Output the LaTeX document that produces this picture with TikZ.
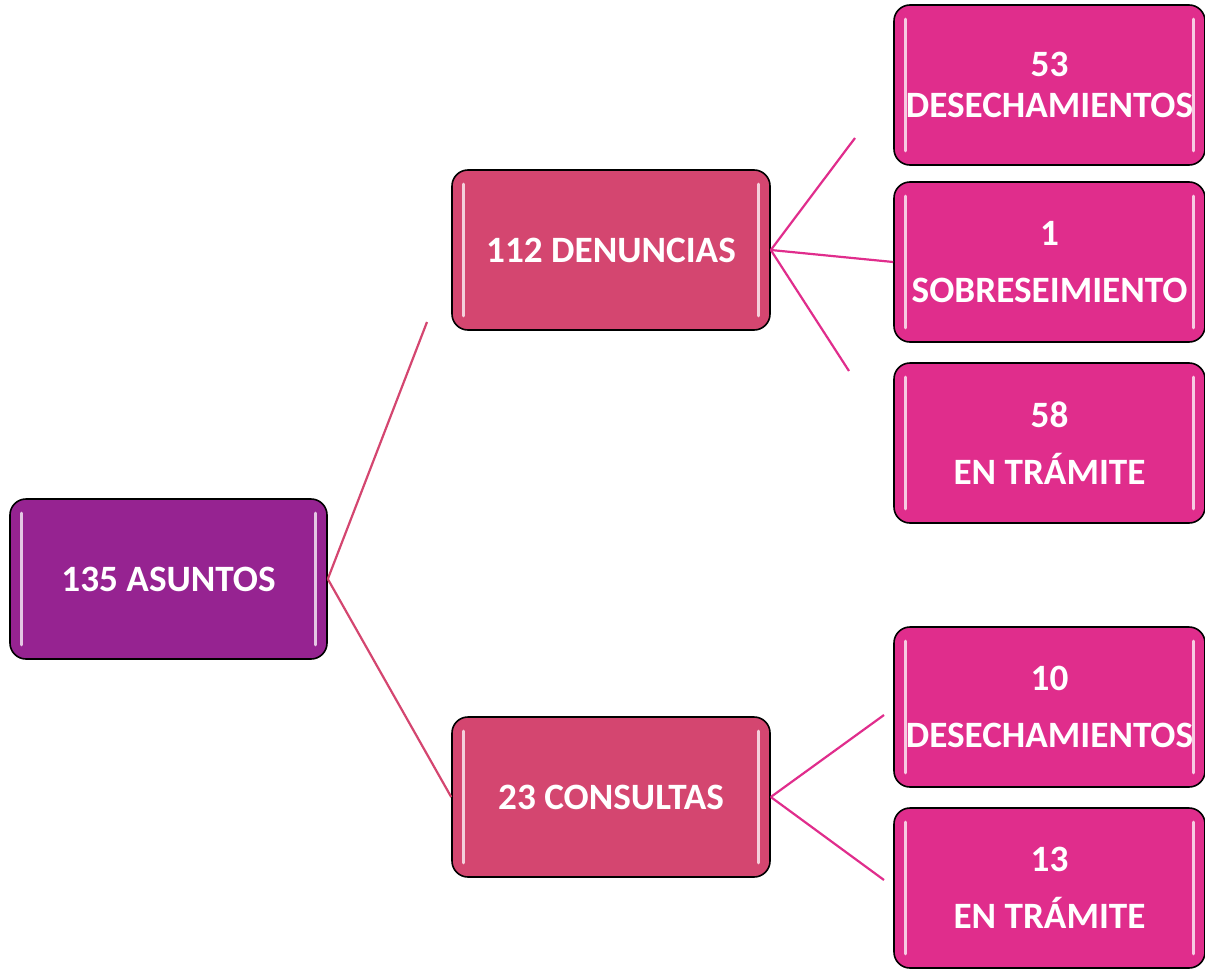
\documentclass[tikz,border=0pt]{standalone}
\usepackage{fontspec}
\setmainfont{Carlito}
\definecolor{morado}{RGB}{150,35,145}
\definecolor{rosa}{RGB}{212,70,112}
\definecolor{fucsia}{RGB}{224,45,140}
\tikzset{
	caja/.style={draw=black,line width=1.6pt,rounded corners=16pt,text=white,
		minimum height=160pt,inner sep=2pt,align=center,
		font=\fontsize{37.2}{41}\selectfont\bfseries},
	brillo/.style={white,opacity=0.75,line width=3pt,line cap=round},
	rama/.style={rosa,line width=2.2pt},
	hoja/.style={fucsia,line width=2.2pt}
}

\begin{document}
\begin{tikzpicture}[x=1pt,y=-1pt]
	\useasboundingbox (0,0) rectangle (1205,969);

	%BOXES
	\node[caja,fill=morado,minimum width=317pt] (raiz) at (168.5,579) {135 ASUNTOS};
	\node[caja,fill=rosa,minimum width=318pt] (den) at (611,250) {112 DENUNCIAS};
	\node[caja,fill=rosa,minimum width=318pt] (con) at (611,797) {23 CONSULTAS};
	\node[caja,fill=fucsia,minimum width=311pt] (des1) at (1049.5,85) {53\\DESECHAMIENTOS};
	\node[caja,fill=fucsia,minimum width=311pt] (sob) at (1049.5,262) {1\\[16pt]SOBRESEIMIENTO};
	\node[caja,fill=fucsia,minimum width=311pt] (tra1) at (1049.5,443) {58\\[16pt]EN TR\'AMITE};
	\node[caja,fill=fucsia,minimum width=311pt] (des2) at (1049.5,707) {10\\[16pt]DESECHAMIENTOS};
	\node[caja,fill=fucsia,minimum width=311pt] (tra2) at (1049.5,888) {13\\[16pt]EN TR\'AMITE};

	\foreach \n in {raiz,den,con,des1,sob,tra1,des2,tra2}{	%glossy edges
		\draw[brillo] ([xshift=12pt,yshift=-15pt]\n.north west)--([xshift=12pt,yshift=15pt]\n.south west);
		\draw[brillo] ([xshift=-12pt,yshift=-15pt]\n.north east)--([xshift=-12pt,yshift=15pt]\n.south east);
	}

	%LINES
	\coordinate (fin1) at (427,322);
	\coordinate (fin2) at (855,138);
	\coordinate (fin3) at (849,371);
	\coordinate (fin4) at (884,715);
	\coordinate (fin5) at (884,880);
	\draw[rama] (raiz.east)--(fin1);
	\draw[rama] (raiz.east)--(con.west);
	\draw[hoja] (den.east)--(fin2);
	\draw[hoja] (den.east)--(sob.west);
	\draw[hoja] (den.east)--(fin3);
	\draw[hoja] (con.east)--(fin4);
	\draw[hoja] (con.east)--(fin5);
\end{tikzpicture}
\end{document}
